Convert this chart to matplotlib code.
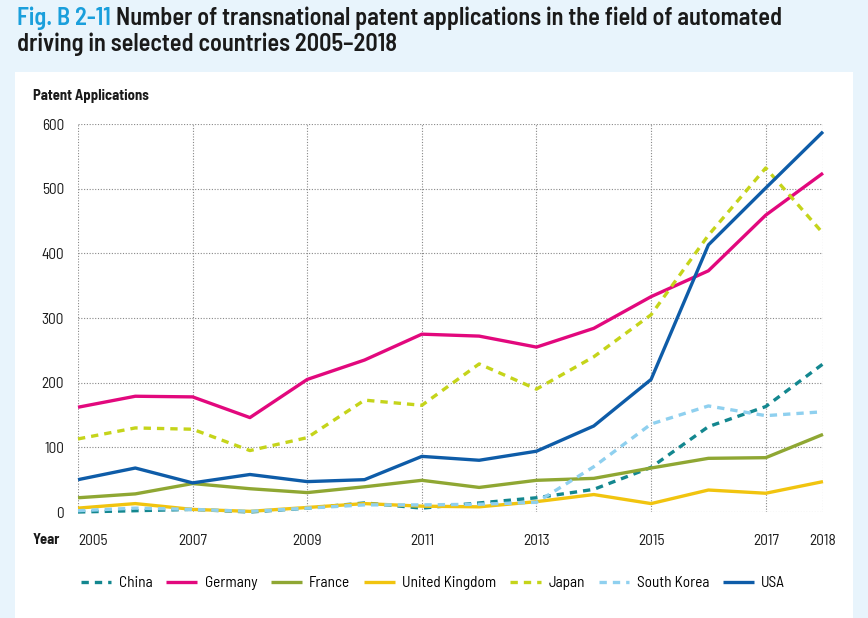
import matplotlib
matplotlib.use("Agg")
import matplotlib.pyplot as plt
from matplotlib.patches import Rectangle

plt.rcParams['font.family'] = ['Barlow Semi Condensed', 'Barlow Condensed',
                               'Roboto Condensed', 'DejaVu Sans']

years = list(range(2005, 2019))
china = [0, 2, 4, 0, 6, 14, 6, 14, 22, 35, 69, 132, 163, 229]
germany = [162, 179, 178, 146, 205, 235, 275, 272, 255, 284, 333, 373, 459, 524]
france = [22, 28, 44, 36, 30, 39, 49, 38, 49, 52, 68, 83, 84, 120]
uk = [6, 13, 4, 1, 7, 13, 9, 8, 16, 27, 13, 34, 29, 47]
japan = [113, 130, 128, 95, 115, 173, 165, 229, 190, 240, 305, 428, 532, 431]
korea = [2, 6, 4, 1, 6, 11, 11, 12, 15, 70, 136, 164, 149, 155]
usa = [50, 68, 45, 58, 47, 50, 86, 80, 94, 133, 205, 413, 501, 588]

xticks = [2005, 2007, 2009, 2011, 2013, 2015, 2017, 2018]
yticks = [0, 100, 200, 300, 400, 500, 600]

series = [
    ("China", china, "#13878f", True),
    ("Germany", germany, "#e2087d", False),
    ("France", france, "#8fa733", False),
    ("United Kingdom", uk, "#f1c40f", False),
    ("Japan", japan, "#c5d41a", True),
    ("South Korea", korea, "#8fd0ef", True),
    ("USA", usa, "#0e5ca8", False),
]

fig = plt.figure(figsize=(8.68, 6.18), dpi=100, facecolor="#e8f4fc")
fig.patches.append(Rectangle((15 / 868, 0), 838 / 868, 1 - 72 / 618,
                             transform=fig.transFigure, facecolor="white",
                             edgecolor="none", zorder=-10))

ax = fig.add_axes([78 / 868, 1 - 512 / 618, 745 / 868, 388 / 618])
ax.set_facecolor("none")

for name, vals, col, dashed in series:
    if dashed:
        ax.plot(years, vals, color=col, lw=2.4, dashes=(2.2, 1.8),
                dash_capstyle="butt", label=name, clip_on=False, zorder=3)
    else:
        ax.plot(years, vals, color=col, lw=2.4, label=name,
                clip_on=False, zorder=3, solid_capstyle="butt")

ax.set_xlim(2005, 2018)
ax.set_ylim(0, 600)
ax.set_xticks(xticks)
ax.set_yticks(yticks)
ax.grid(True, color="#888888", ls=(0, (1, 1.5)), lw=0.8)
for s in ax.spines.values():
    s.set_visible(False)
ax.tick_params(length=0, labelsize=11, colors="#1a1a1a")
ax.tick_params(axis="x", pad=16)
ax.tick_params(axis="y", pad=10)
# first year label sits to the right of its gridline, next to "Year"
ax.get_xticklabels()[0].set_horizontalalignment("left")

fig.text(33 / 868, 1 - 96 / 618, "Patent Applications", fontsize=10.5,
         fontweight="bold", va="center", ha="left", color="#1a1a1a")
fig.text(33 / 868, 1 - 540 / 618, "Year", fontsize=10.5,
         fontweight="bold", va="center", ha="left", color="#1a1a1a")

# title, blue prefix then dark text
t1 = fig.text(17 / 868, 1 - 18 / 618, "Fig. B 2-11", fontsize=17.5,
              fontweight="semibold", color="#1a9fdc", va="center", ha="left")
fig.canvas.draw()
bb = t1.get_window_extent()
fig.text(bb.x1 / 868 + 5 / 868, 1 - 18 / 618,
         "Number of transnational patent applications in the field of automated",
         fontsize=17.5, fontweight="semibold", color="#1a1a1a", va="center", ha="left")
fig.text(17 / 868, 1 - 44 / 618, "driving in selected countries 2005\u20132018",
         fontsize=17.5, fontweight="semibold", color="#1a1a1a", va="center", ha="left")

fig.legend(loc="center", bbox_to_anchor=(433 / 868, 1 - 583 / 618), ncol=7,
           frameon=False, fontsize=11, handlelength=2.0, handletextpad=0.5,
           columnspacing=0.9)

fig.savefig("out.png", dpi=100, facecolor=fig.get_facecolor())
